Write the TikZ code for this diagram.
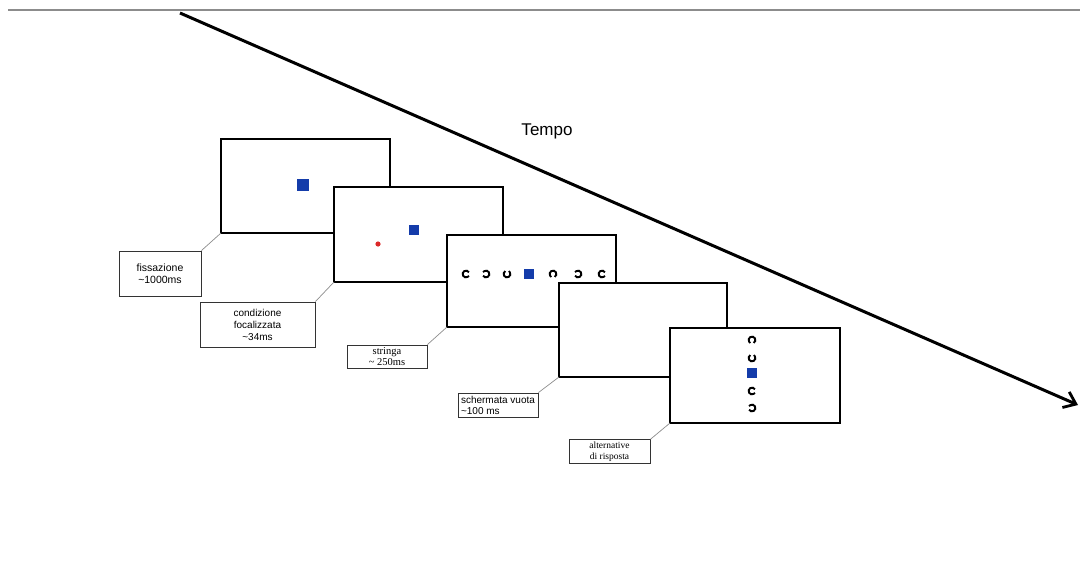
\documentclass[tikz,border=0pt]{standalone}
\usepackage{fontspec}
\setmainfont{Liberation Sans}
\newfontfamily\serifL{Liberation Serif}
\usetikzlibrary{arrows.meta}
\definecolor{sqblue}{RGB}{20,60,170}
\definecolor{dotred}{RGB}{220,40,40}
\tikzset{
  screen/.style={draw=black,line width=2pt,fill=white},
  lbl/.style={draw=black!80,line width=0.8pt,fill=white,inner sep=2pt,align=center},
  lead/.style={draw=black!45,line width=0.7pt},
  sq/.style={fill=sqblue,draw=none,minimum size=#1,inner sep=0pt},
  ring/.style={draw=black,line width=1.9pt,line cap=butt},
}
% Landolt C: #1 = coordinate name, #2 = direction of the gap (degrees)
\newcommand{\landoltC}[2]{%
  \draw[ring] ([shift={(#2+30:3.4pt)}]#1) arc[start angle=#2+30,end angle=#2+330,radius=3.4pt];}
\begin{document}
\begin{tikzpicture}[x=1pt,y=-1pt]
\useasboundingbox (0,0) rectangle (1080,581);
% top rule
\draw[black!45,line width=1.5pt] (8,10) -- (1080,10);
% time arrow
\coordinate (tA) at (180,13);
\coordinate (tB) at (1078,405);
\draw[line width=3pt,-{Straight Barb[length=11pt,width=17pt,line width=2.8pt]}] (tA) -- (tB);
\node[font=\fontsize{17}{17}\selectfont] (tempo) at (547,131) {Tempo};

% screens
\draw[screen] (221,139) rectangle (390,233);
\node[sq=12pt] (s1sq) at (303,185) {};
\coordinate (s1bl) at (221,233);

\draw[screen] (334,187) rectangle (503,282);
\node[sq=10pt] (s2sq) at (414,230) {};
\fill[dotred] (378,244) circle (2.6pt);
\coordinate (s2bl) at (334,282);

\draw[screen] (447,235) rectangle (616,327);
\coordinate (c1) at (466,274);
\coordinate (c2) at (486,274);
\coordinate (c3) at (507,274);
\node[sq=10pt] (s3sq) at (529,274) {};
\coordinate (c5) at (553,274);
\coordinate (c6) at (578,274);
\coordinate (c7) at (602,274);
% note y axis is flipped: angle 90 points down
\landoltC{c1}{0}
\landoltC{c2}{180}
\landoltC{c3}{90}
\landoltC{c5}{-90}
\landoltC{c6}{180}
\landoltC{c7}{0}
\coordinate (s3bl) at (447,327);

\draw[screen] (559,283) rectangle (727,377);
\coordinate (s4bl) at (559,377);

\draw[screen] (670,328) rectangle (840,423);
\coordinate (v1) at (752,340);
\coordinate (v2) at (752,358);
\node[sq=10pt] (s5sq) at (752,373) {};
\coordinate (v4) at (752,391);
\coordinate (v5) at (752,408);
\landoltC{v1}{-90}
\landoltC{v2}{90}
\landoltC{v4}{0}
\landoltC{v5}{180}
\coordinate (s5bl) at (670,423);

% labels
\node[lbl,minimum width=82pt,minimum height=45pt,font=\fontsize{10.5}{12.5}\selectfont] (L1) at (160,273.5) {fissazione\\\textasciitilde1000ms};
\node[lbl,minimum width=115pt,minimum height=45pt,font=\fontsize{10}{12}\selectfont] (L2) at (257.5,324.5) {condizione\\focalizzata\\\textasciitilde34ms};
\node[lbl,minimum width=80pt,minimum height=23pt,font=\serifL\fontsize{10.5}{11}\selectfont] (L3) at (387,356.5) {stringa\\\textasciitilde{} 250ms};
\node[lbl,minimum width=80pt,minimum height=24pt,align=left,font=\fontsize{10}{11}\selectfont] (L4) at (498,405) {schermata vuota\\\textasciitilde100 ms\hspace*{2.8em}};
\node[lbl,minimum width=81pt,minimum height=23pt,font=\serifL\fontsize{9.5}{11}\selectfont] (L5) at (609.5,451.5) {alternative\\di risposta};

% leader lines
\draw[lead] (L1.north east) -- (s1bl);
\draw[lead] (L2.north east) -- (s2bl);
\draw[lead] (L3.north east) -- (s3bl);
\draw[lead] (L4.north east) -- (s4bl);
\draw[lead] (L5.north east) -- (s5bl);
\end{tikzpicture}
\end{document}
